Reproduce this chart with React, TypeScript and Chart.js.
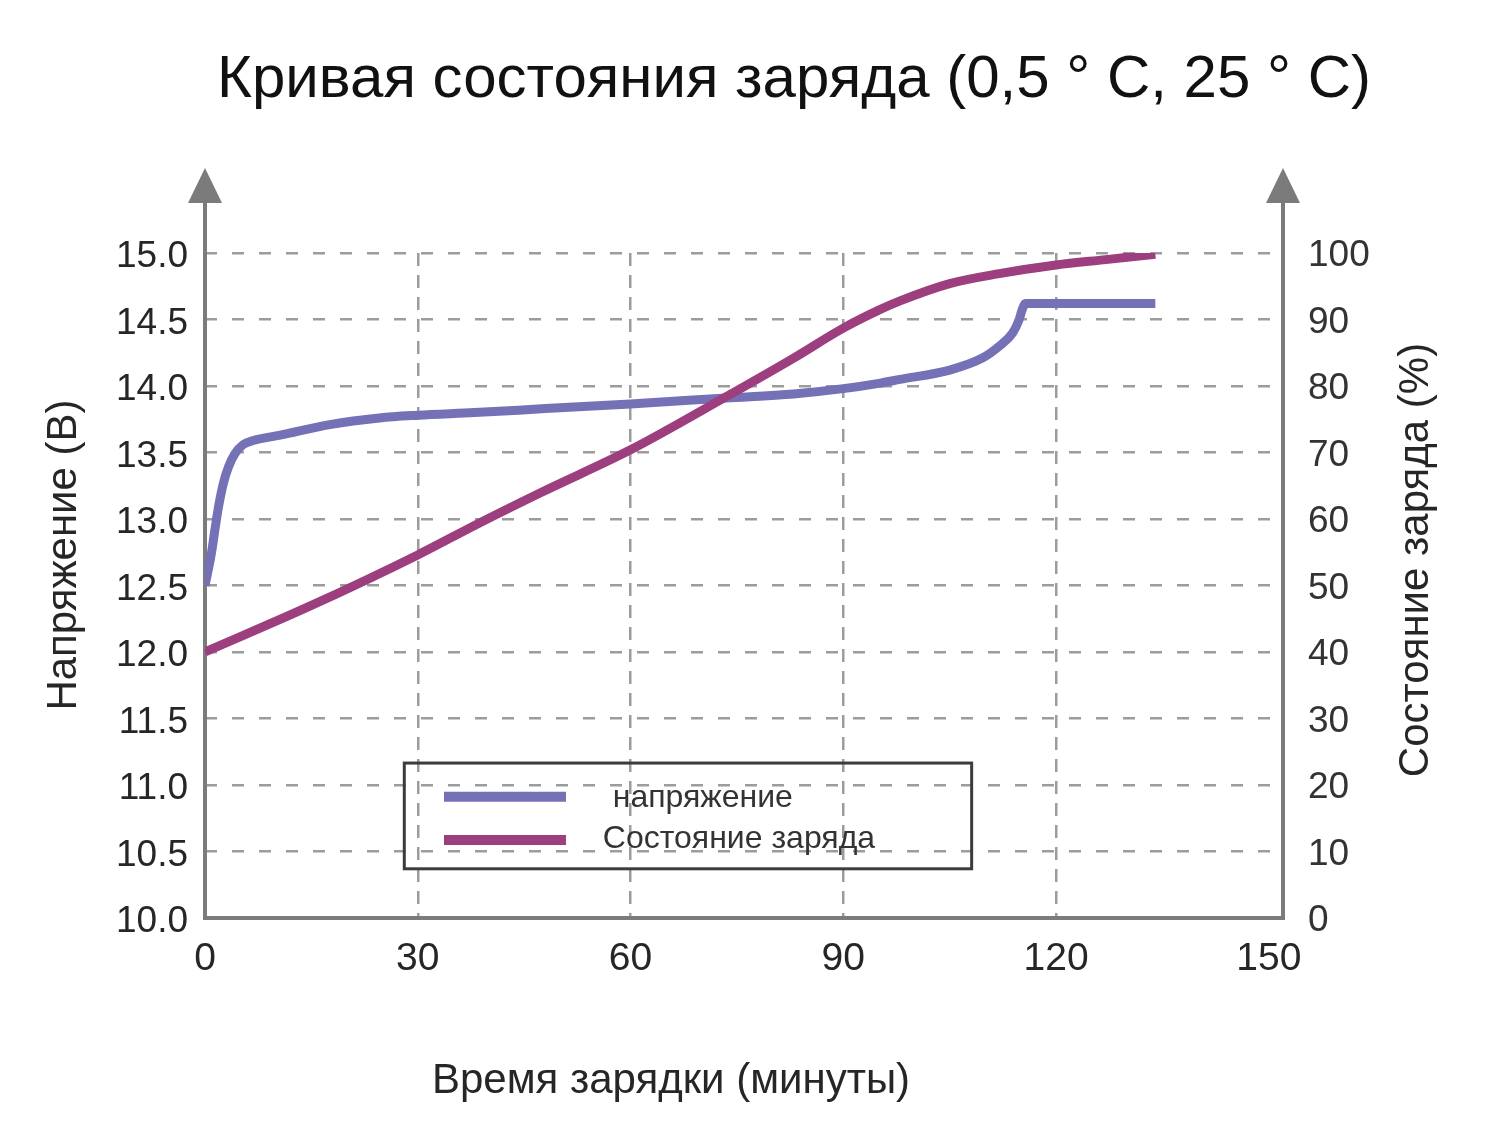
import { useEffect, useRef } from 'react'
import { Chart, registerables } from 'chart.js'
import type { Plugin } from 'chart.js'

Chart.register(...registerables)

const FONT = '"Liberation Sans", Arial, sans-serif'
const AXIS_COLOR = '#7b7b7b'
const GRID_COLOR = '#9c9c9c'
const TEXT_COLOR = '#262626'
const VOLT_COLOR = '#7471b7'
const SOC_COLOR = '#9d3e7f'

// charging time (minutes) and voltage (V)
const voltageTime = [0, 0.9, 1.4, 1.9, 2.6, 3.3, 4.2, 5.4, 6.8, 10.6, 17.6, 24.6, 30, 38, 48, 60, 73.5, 83, 90, 95, 98, 105, 109.6, 112, 113.9, 114.8, 115.2, 115.7, 134]
const voltageValues = [12.5, 12.74, 12.92, 13.09, 13.27, 13.39, 13.49, 13.56, 13.59, 13.63, 13.71, 13.76, 13.78, 13.8, 13.83, 13.865, 13.91, 13.94, 13.98, 14.02, 14.05, 14.12, 14.21, 14.3, 14.4, 14.5, 14.57, 14.62, 14.62]

// charging time (minutes) and state of charge (%)
const socTime = [0, 15, 30, 38.7, 47.6, 60, 73.5, 83, 90, 95, 98, 105, 112, 120, 127, 134]
const socValues = [40, 47, 54.6, 59.4, 64.1, 70.4, 78.4, 84.2, 88.7, 91.4, 92.8, 95.4, 96.9, 98.2, 99, 99.8]

const xTicks = [0, 30, 60, 90, 120, 150]
const voltageTicks = [10, 10.5, 11, 11.5, 12, 12.5, 13, 13.5, 14, 14.5, 15]
const socTicks = [0, 10, 20, 30, 40, 50, 60, 70, 80, 90, 100]

const TITLE = 'Кривая состояния заряда (0,5 ° C, 25 ° C)'
const X_TITLE = 'Время зарядки (минуты)'
const Y_TITLE = 'Напряжение (В)'
const Y2_TITLE = 'Состояние заряда (%)'
const VOLT_LABEL = 'напряжение'
const SOC_LABEL = 'Состояние заряда'

// axis lines with arrow heads, drawn under the curves
const axesPlugin: Plugin<'line'> = {
    id: 'axes',
    beforeDatasetsDraw(chart) {
        const { ctx, chartArea: { left, right, top, bottom } } = chart
        ctx.save()
        ctx.strokeStyle = AXIS_COLOR
        ctx.fillStyle = AXIS_COLOR
        ctx.lineWidth = 4
        ctx.lineJoin = 'miter'
        ctx.beginPath()
        ctx.moveTo(left, top - 52)
        ctx.lineTo(left, bottom)
        ctx.lineTo(right, bottom)
        ctx.lineTo(right, top - 52)
        ctx.stroke()
        for (const x of [left, right]) {
            ctx.beginPath()
            ctx.moveTo(x - 17, top - 50)
            ctx.lineTo(x + 17, top - 50)
            ctx.lineTo(x, top - 85)
            ctx.closePath()
            ctx.fill()
        }
        ctx.restore()
    },
}

// titles and the boxed legend
const textPlugin: Plugin<'line'> = {
    id: 'texts',
    afterDraw(chart) {
        const { ctx } = chart
        const xs = chart.scales.x
        const ys = chart.scales.y
        ctx.save()
        ctx.fillStyle = '#111'
        ctx.textAlign = 'center'
        ctx.textBaseline = 'alphabetic'
        ctx.font = `60px ${FONT}`
        ctx.fillText(TITLE, 794, 97)

        ctx.fillStyle = TEXT_COLOR
        ctx.font = `42px ${FONT}`
        ctx.fillText(X_TITLE, 671, 1093)

        ctx.save()
        ctx.translate(76, 555)
        ctx.rotate(-Math.PI / 2)
        ctx.font = `42px ${FONT}`
        ctx.fillText(Y_TITLE, 0, 0)
        ctx.restore()

        ctx.save()
        ctx.translate(1428, 560)
        ctx.rotate(-Math.PI / 2)
        ctx.font = `42px ${FONT}`
        ctx.fillText(Y2_TITLE, 0, 0)
        ctx.restore()

        // legend box
        const bx1 = xs.getPixelForValue(28.1)
        const bx2 = xs.getPixelForValue(108.1)
        const by1 = ys.getPixelForValue(11.165)
        const by2 = ys.getPixelForValue(10.37)
        ctx.strokeStyle = '#3c3c3c'
        ctx.lineWidth = 3
        ctx.strokeRect(bx1, by1, bx2 - bx1, by2 - by1)

        const sx1 = xs.getPixelForValue(33.7)
        const sx2 = xs.getPixelForValue(50.9)
        ctx.lineWidth = 10
        ctx.lineCap = 'butt'
        ctx.strokeStyle = VOLT_COLOR
        ctx.beginPath()
        ctx.moveTo(sx1, ys.getPixelForValue(10.912))
        ctx.lineTo(sx2, ys.getPixelForValue(10.912))
        ctx.stroke()
        ctx.strokeStyle = SOC_COLOR
        ctx.beginPath()
        ctx.moveTo(sx1, ys.getPixelForValue(10.586))
        ctx.lineTo(sx2, ys.getPixelForValue(10.586))
        ctx.stroke()

        ctx.fillStyle = '#333'
        ctx.textAlign = 'left'
        ctx.font = `32px ${FONT}`
        ctx.fillText(VOLT_LABEL, xs.getPixelForValue(57.5), ys.getPixelForValue(10.835))
        ctx.fillText(SOC_LABEL, xs.getPixelForValue(56.1), ys.getPixelForValue(10.526))
        ctx.restore()
    },
}

export default function App() {
    const canvasRef = useRef<HTMLCanvasElement>(null)
    const chartRef = useRef<Chart | null>(null)

    useEffect(() => {
        if (!canvasRef.current) return
        if (chartRef.current) chartRef.current.destroy()

        chartRef.current = new Chart(canvasRef.current, {
            type: 'line',
            data: {
                datasets: [
                    {
                        label: SOC_LABEL,
                        data: socTime.map((x, i) => ({ x, y: socValues[i] })),
                        yAxisID: 'y2',
                        borderColor: SOC_COLOR,
                        borderWidth: 9,
                        pointRadius: 0,
                        cubicInterpolationMode: 'monotone',
                        order: 0,
                    },
                    {
                        label: VOLT_LABEL,
                        data: voltageTime.map((x, i) => ({ x, y: voltageValues[i] })),
                        yAxisID: 'y',
                        borderColor: VOLT_COLOR,
                        borderWidth: 9,
                        pointRadius: 0,
                        cubicInterpolationMode: 'monotone',
                        order: 1,
                    },
                ],
            },
            options: {
                animation: false,
                responsive: true,
                maintainAspectRatio: false,
                layout: { padding: { top: 253, left: 85, right: 97, bottom: 153 } },
                plugins: {
                    legend: { display: false },
                    tooltip: { enabled: false },
                },
                scales: {
                    x: {
                        type: 'linear',
                        min: 0,
                        max: 152,
                        afterBuildTicks: s => { s.ticks = xTicks.map(value => ({ value })) },
                        afterFit: s => { s.height = 60 },
                        grid: {
                            color: c => (c.tick && c.tick.value > 0 && c.tick.value < 150 ? GRID_COLOR : 'transparent'),
                            lineWidth: 2.5,
                            drawTicks: false,
                        },
                        border: { display: false, dash: [13, 9] },
                        ticks: {
                            padding: 18,
                            color: TEXT_COLOR,
                            font: { family: FONT, size: 39 },
                            maxRotation: 0,
                            autoSkip: false,
                        },
                    },
                    y: {
                        type: 'linear',
                        position: 'left',
                        min: 10,
                        max: 15,
                        afterBuildTicks: s => { s.ticks = voltageTicks.map(value => ({ value })) },
                        afterFit: s => { s.width = 120 },
                        grid: {
                            color: c => (c.tick && c.tick.value > 10 ? GRID_COLOR : 'transparent'),
                            lineWidth: 2.5,
                            drawTicks: false,
                        },
                        border: { display: false, dash: [12, 15] },
                        ticks: {
                            padding: 17,
                            labelOffset: 4,
                            color: TEXT_COLOR,
                            font: { family: FONT, size: 37 },
                            autoSkip: false,
                            callback: v => Number(v).toFixed(1),
                        },
                    },
                    y2: {
                        type: 'linear',
                        position: 'right',
                        min: 0,
                        max: 100,
                        afterBuildTicks: s => { s.ticks = socTicks.map(value => ({ value })) },
                        afterFit: s => { s.width = 120 },
                        grid: { display: false, drawTicks: false },
                        border: { display: false },
                        ticks: {
                            padding: 25,
                            labelOffset: 3,
                            color: '#333',
                            font: { family: FONT, size: 37 },
                            autoSkip: false,
                        },
                    },
                },
            },
            plugins: [axesPlugin, textPlugin],
        })

        return () => { chartRef.current?.destroy() }
    }, [])

    return (
        <div style={{ position: 'absolute', left: 0, top: 0, width: 1500, height: 1131, background: '#fff' }}>
            <canvas ref={canvasRef} />
        </div>
    )
}
